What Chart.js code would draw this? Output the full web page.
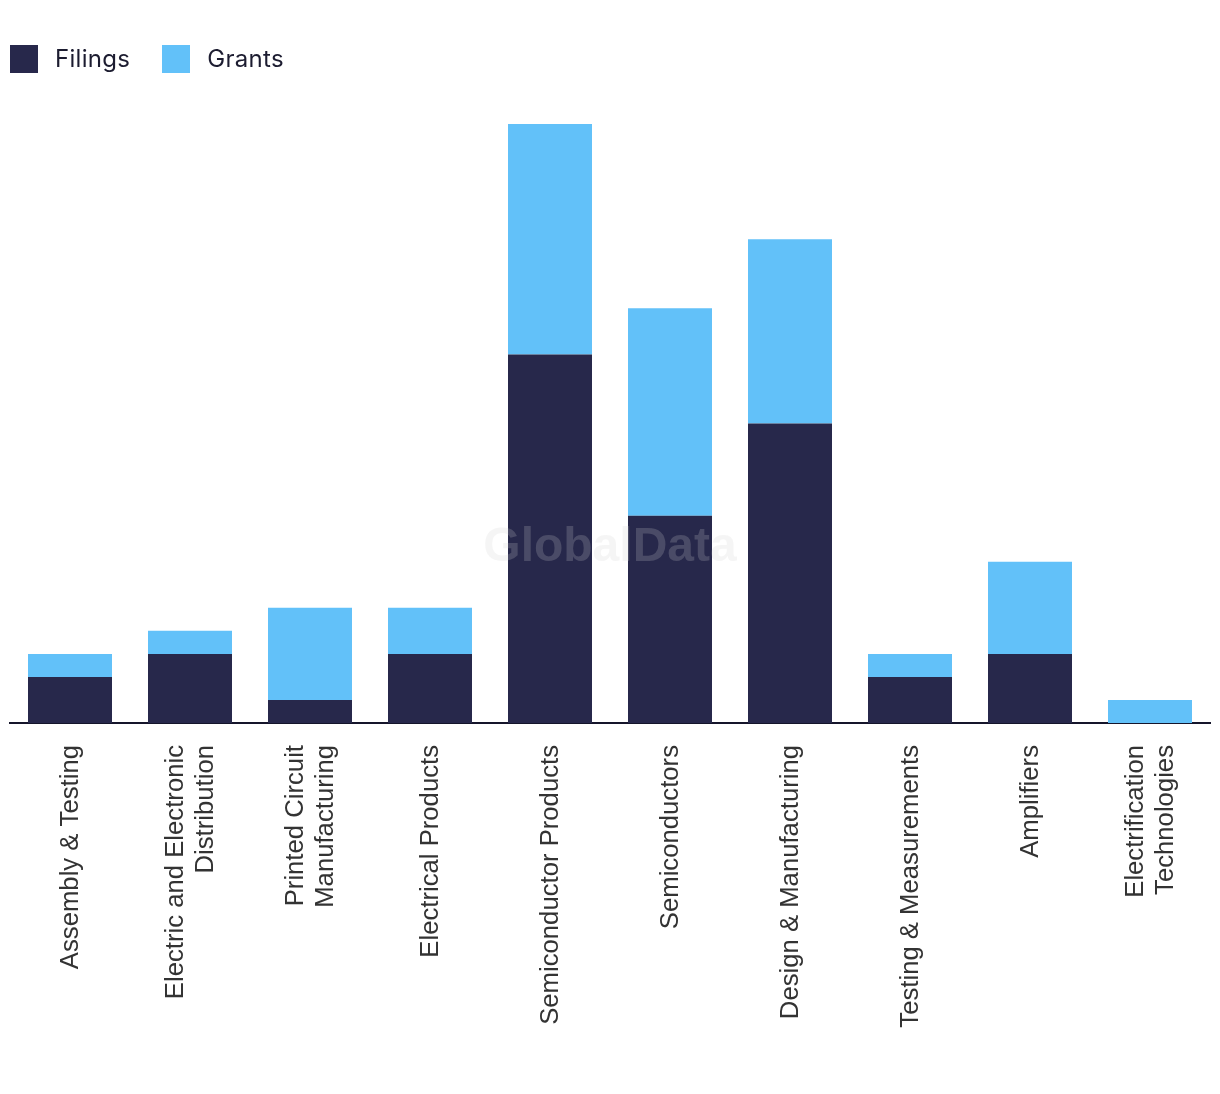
<!DOCTYPE html>
<html lang="en">
<head>
<meta charset="UTF-8" />
<title>Filings and Grants</title>
<script src="https://cdn.jsdelivr.net/npm/chart.js"></script>
<style>
  html, body { margin: 0; padding: 0; background: #fff; }
  #wrap { position: relative; width: 1220px; height: 1094px; }
  #legend { position: absolute; left: 10px; top: 44px; display: flex; align-items: center;
    font-family: Inter, "Noto Sans", sans-serif; font-size: 24px; letter-spacing: 0.3px; color: #1c1c30; }
  #legend .item { display: flex; align-items: center; margin-right: 32px; }
  #legend .box { width: 28px; height: 28px; margin-right: 17px; }
  canvas { position: absolute; left: 0; top: 0; }
</style>
</head>
<body>
<div id="wrap">
  <canvas id="chart" width="1220" height="1094"></canvas>
  <div id="legend"></div>
</div>
<script>
const categories = [
  'Assembly & Testing',
  ['Electric and Electronic', 'Distribution'],
  ['Printed Circuit', 'Manufacturing'],
  'Electrical Products',
  'Semiconductor Products',
  'Semiconductors',
  'Design & Manufacturing',
  'Testing & Measurements',
  'Amplifiers',
  ['Electrification', 'Technologies']
];
const filings = [2, 3, 1, 3, 16, 9, 13, 2, 3, 0];
const grants = [1, 1, 4, 2, 10, 9, 8, 1, 4, 1];

const NAVY = '#27284b';
const SKY = '#62c1f9';

// legend in HTML
const legendItems = [['Filings', NAVY], ['Grants', SKY]];
document.getElementById('legend').innerHTML = legendItems.map(([name, color]) =>
  `<div class="item"><div class="box" style="background:${color}"></div><span>${name}</span></div>`
).join('');

const watermark = {
  id: 'watermark',
  afterDatasetsDraw(chart) {
    const ctx = chart.ctx;
    ctx.save();
    ctx.font = 'bold 48px "Liberation Sans", Arial, sans-serif';
    ctx.fillStyle = 'rgba(208, 208, 208, 0.21)';
    ctx.textAlign = 'center';
    ctx.textBaseline = 'middle';
    ctx.fillText('GlobalData', 610, 548);
    ctx.restore();
  }
};

// vertical category labels, lines centred on each tick
const LABEL_LINE = 30;
const verticalLabels = {
  id: 'verticalLabels',
  afterDraw(chart) {
    const ctx = chart.ctx;
    const xs = chart.scales.x;
    const top = chart.chartArea.bottom + 22;
    ctx.save();
    ctx.font = '25.7px "Liberation Sans", Arial, sans-serif';
    ctx.fillStyle = '#333333';
    ctx.textAlign = 'right';
    ctx.textBaseline = 'middle';
    categories.forEach((lab, i) => {
      const lines = Array.isArray(lab) ? lab : [lab];
      const px = xs.getPixelForTick(i);
      ctx.save();
      ctx.translate(px, top);
      ctx.rotate(-Math.PI / 2);
      lines.forEach((line, j) => {
        const off = (j - (lines.length - 1) / 2) * LABEL_LINE + 1;
        ctx.fillText(line, 0, off);
      });
      ctx.restore();
    });
    ctx.restore();
  }
};

new Chart(document.getElementById('chart'), {
  type: 'bar',
  data: {
    labels: categories,
    datasets: [
      { label: 'Filings', data: filings, backgroundColor: NAVY },
      { label: 'Grants', data: grants, backgroundColor: SKY }
    ]
  },
  options: {
    responsive: false,
    animation: false,
    layout: { padding: { left: 10, right: 10, top: 124, bottom: 0 } },
    datasets: { bar: { categoryPercentage: 1, barPercentage: 0.7 } },
    plugins: {
      legend: { display: false },
      tooltip: { enabled: false }
    },
    scales: {
      x: {
        stacked: true,
        grid: { display: false, drawTicks: false },
        border: { display: true, color: '#15152b', width: 2 },
        ticks: { display: false },
        afterFit(scale) {
          scale.height = 1094 - 723;
          scale.paddingLeft = 0;
          scale.paddingRight = 0;
        }
      },
      y: {
        stacked: true,
        display: false,
        min: 0,
        max: 26
      }
    }
  },
  plugins: [watermark, verticalLabels]
});
</script>
</body>
</html>
